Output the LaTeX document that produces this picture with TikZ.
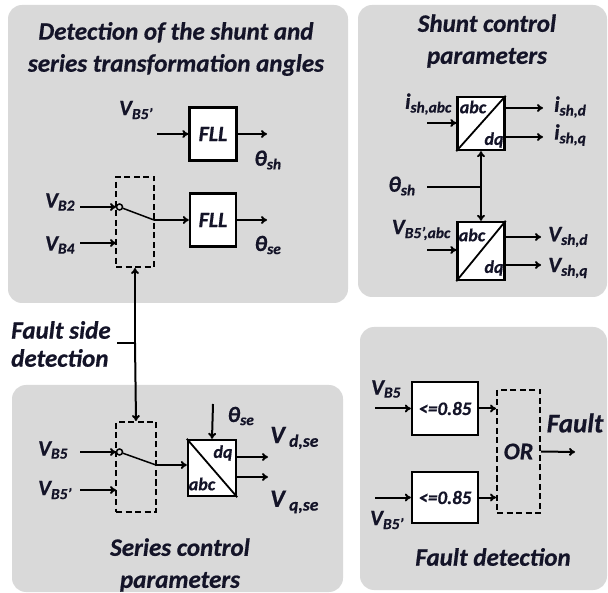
\documentclass[tikz,border=0pt]{standalone}
\usepackage{fontspec}
\setmainfont{Carlito}[BoldItalicFeatures={FakeBold=0.6}]
\usetikzlibrary{arrows.meta}
\definecolor{panel}{RGB}{217,217,217}
\definecolor{ink}{RGB}{20,20,40}
\newcommand\lsub[2]{#1\textsubscript{#2}}
\tikzset{
  panelbox/.style={fill=panel, draw=none, rounded corners=14pt},
  blk/.style={draw, line width=2.4pt, fill=white, inner sep=0pt},
  swbox/.style={draw, line width=2pt, dash pattern=on 6pt off 3.5pt, inner sep=0pt},
  arr/.style={-{To[length=6pt,width=8pt]}, line width=2pt},
  ln/.style={line width=2pt},
  txt/.style={font=\bfseries\itshape\fontsize{22}{24}\selectfont, text=ink, inner sep=0pt},
  small/.style={font=\bfseries\itshape\fontsize{18}{19}\selectfont, text=ink, inner sep=0pt},
  ttl/.style={font=\bfseries\itshape\fontsize{25}{32}\selectfont, text=ink, align=center, inner sep=0pt},
}
\begin{document}
\begin{tikzpicture}[x=1pt,y=-1pt]
\useasboundingbox (0,0) rectangle (608,593);
% panels
\fill[panelbox] (8,5) rectangle (348,303);
\fill[panelbox] (358,5) rectangle (607,297);
\fill[panelbox] (12,385) rectangle (343,592);
\fill[panelbox] (360,327) rectangle (607,590);

% ---------- top-left ----------
\node[ttl] (t1) at (176,49) {Detection of the shunt and\\series transformation angles};
\node[blk, txt, minimum width=47pt, minimum height=53pt] (fll1) at (213,134) {FLL};
\node[txt] (vb5p) at (136,110) {\lsub{V}{B5'}};
\coordinate (in1) at (157,134);
\coordinate (out1) at (267,134);
\draw[arr] (in1) -- (fll1.west);
\draw[arr] (fll1.east) -- (out1);
\node[txt] (thsh) at (268,160) {\lsub{θ}{sh}};

\node[swbox, minimum width=38pt, minimum height=90pt] (sw1) at (135,222) {};
\node[blk, txt, minimum width=46pt, minimum height=53pt] (fll2) at (213,220) {FLL};
\coordinate (vb2in) at (80,207);
\coordinate (s1a) at (116,207);
\coordinate (vb4in) at (80,243);
\coordinate (s1b) at (116,243);
\coordinate (s1o) at (154,220);
\coordinate (out2) at (267,220);
\node[txt] (vb2) at (60,202) {\lsub{V}{B2}};
\node[txt] (vb4) at (60,245) {\lsub{V}{B4}};
\draw[arr] (vb2in) -- (s1a);
\draw[arr] (vb4in) -- (s1b);
\node[draw, circle, line width=1.5pt, fill=panel, inner sep=0pt, minimum size=6pt] (c1) at (119.5,207) {};
\draw[line width=1.5pt] (c1) -- (s1o);
\draw[arr] (s1o) -- (fll2.west);
\draw[arr] (fll2.east) -- (out2);
\node[txt] (thse1) at (268,245) {\lsub{θ}{se}};

% ---------- fault side detection ----------
\node[font=\bfseries\itshape\fontsize{25}{28}\selectfont, text=ink, align=left, inner sep=0pt, anchor=west] (fsdt) at (11,344) {Fault side\\detection};
\coordinate (fsd) at (135,343);
\coordinate (fsl) at (117,343);
\draw[ln] (fsl) -- (fsd);

% ---------- bottom-left ----------
\node[swbox, minimum width=40pt, minimum height=90pt] (sw2) at (136,467) {};
\draw[arr] (fsd) -- (sw1.south);
\draw[arr] (fsd) -- (sw2.north);
\coordinate (vb5in) at (80,452);
\coordinate (s2a) at (116,452);
\coordinate (vb5pin) at (80,490);
\coordinate (s2b) at (116,490);
\coordinate (s2o) at (156,465);
\node[txt] (vb5) at (53,450) {\lsub{V}{B5}};
\node[txt] (vb5pb) at (55,490) {\lsub{V}{B5'}};
\draw[arr] (vb5in) -- (s2a);
\draw[arr] (vb5pin) -- (s2b);
\node[draw, circle, line width=1.5pt, fill=panel, inner sep=0pt, minimum size=6pt] (c2) at (119.5,452) {};
\draw[line width=1.5pt] (c2) -- (s2o);
\node[blk, minimum width=48pt, minimum height=56pt] (bse) at (212,468) {};
\draw[line width=1.8pt] (bse.north west) -- (bse.south east);
\node[small] (bsedq) at (223,453) {dq};
\node[small] (bseabc) at (202,484) {abc};
\draw[arr] (s2o) -- (bse.west |- s2o);
\coordinate (thin) at (213,404);
\draw[arr] (thin) -- (bse.north);
\node[txt] (thse2) at (241,416) {\lsub{θ}{se}};
\coordinate (od1) at (268,457);
\coordinate (od2) at (268,477);
\draw[arr] (od1 -| bse.east) -- (od1);
\draw[arr] (od2 -| bse.east) -- (od2);
\node[font=\bfseries\itshape\fontsize{25}{26}\selectfont, text=ink, inner sep=0pt, anchor=west] (vdse) at (270,438) {V\,\textsubscript{d,se}};
\node[font=\bfseries\itshape\fontsize{25}{26}\selectfont, text=ink, inner sep=0pt, anchor=west] (vqse) at (270,502) {V\,\textsubscript{q,se}};
\node[ttl] (t3) at (180,565) {Series control\\parameters};

% ---------- top-right ----------
\node[ttl] (t2) at (487,41) {Shunt control\\parameters};
\node[blk, minimum width=47pt, minimum height=53pt] (b1) at (481,123.5) {};
\draw[line width=1.8pt] (b1.south west) -- (b1.north east);
\node[small] (b1abc) at (473,107) {abc};
\node[small] (b1dq) at (494,140) {dq};
\node[txt, anchor=east] (ishabc) at (452,104) {\lsub{i}{sh,abc}};
\coordinate (ishin) at (427,123);
\draw[arr] (ishin) -- (ishin -| b1.west);
\coordinate (oi1) at (543,108);
\coordinate (oi2) at (543,137);
\draw[arr] (oi1 -| b1.east) -- (oi1);
\draw[arr] (oi2 -| b1.east) -- (oi2);
\node[txt, anchor=west] (ishd) at (554,107) {\lsub{i}{sh,d}};
\node[txt, anchor=west] (ishq) at (554,135) {\lsub{i}{sh,q}};

\node[blk, minimum width=47pt, minimum height=58pt] (b2) at (481,251) {};
\draw[line width=1.8pt] (b2.south west) -- (b2.north east);
\node[small] (b2abc) at (472,235) {abc};
\node[small] (b2dq) at (494,268) {dq};
\node[txt] (thsh2) at (402,186) {\lsub{θ}{sh}};
\coordinate (thshin) at (427,187);
\coordinate (jn) at (481,187);
\draw[ln] (thshin) -- (jn);
\draw[arr] (jn) -- (b1.south);
\draw[arr] (jn) -- (b2.north);
\node[txt, anchor=east] (vb5abc) at (451,230) {\lsub{V}{B5',abc}};
\coordinate (vin) at (427,250);
\draw[arr] (vin) -- (vin -| b2.west);
\coordinate (ov1) at (541,237);
\coordinate (ov2) at (541,265);
\draw[arr] (ov1 -| b2.east) -- (ov1);
\draw[arr] (ov2 -| b2.east) -- (ov2);
\node[txt, anchor=west] (vshd) at (548,237) {\lsub{V}{sh,d}};
\node[txt, anchor=west] (vshq) at (548,268) {\lsub{V}{sh,q}};

% ---------- bottom-right ----------
\node[blk, font=\bfseries\itshape\fontsize{19}{19}\selectfont, text=ink, minimum width=66pt, minimum height=53pt] (cmp1) at (445,408.5) {<=0.85};
\node[blk, font=\bfseries\itshape\fontsize{19}{19}\selectfont, text=ink, minimum width=66pt, minimum height=51pt] (cmp2) at (445,497.5) {<=0.85};
\node[txt] (vb5r) at (386,389) {\lsub{V}{B5}};
\node[txt] (vb5pr) at (387,520) {\lsub{V}{B5'}};
\coordinate (ci1) at (375,408.5);
\coordinate (ci2) at (375,497.5);
\draw[arr] (ci1) -- (cmp1.west);
\draw[arr] (ci2) -- (cmp2.west);
\node[swbox, font=\bfseries\itshape\fontsize{24}{24}\selectfont, text=ink, minimum width=43pt, minimum height=123pt] (orb) at (518.5,451.5) {OR};
\draw[arr] (cmp1.east) -- (cmp1.east -| orb.west);
\draw[arr] (cmp2.east) -- (cmp2.east -| orb.west);
\coordinate (fout) at (575,452);
\draw[arr] (orb.east) -- (fout);
\node[font=\bfseries\itshape\fontsize{27}{28}\selectfont, text=ink, inner sep=0pt] (fault) at (575,423) {Fault};
\node[font=\bfseries\itshape\fontsize{25}{26}\selectfont, text=ink, inner sep=0pt] (fdet) at (493,557) {Fault detection};
\end{tikzpicture}
\end{document}
